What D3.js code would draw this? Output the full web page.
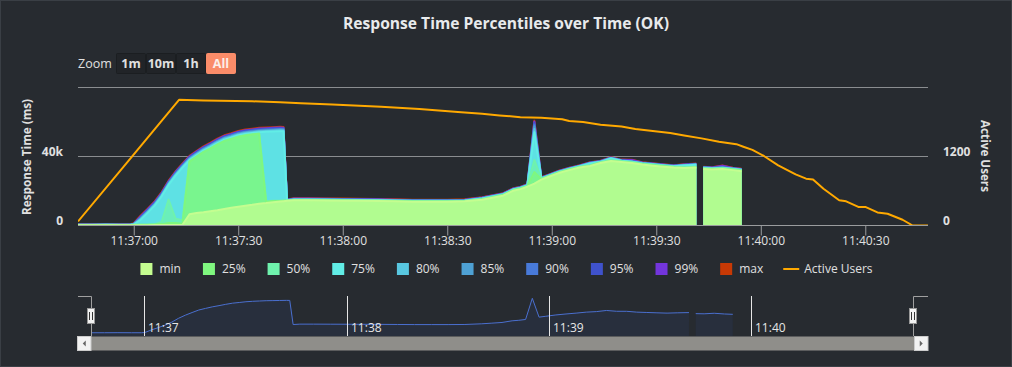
<!DOCTYPE html>
<html><head><meta charset="utf-8">
<script src="https://cdn.jsdelivr.net/npm/d3@7"></script>
<style>
html,body{margin:0;padding:0;background:#272b30;}
svg{display:block;font-family:'Open Sans',sans-serif;}
</style></head><body>
<svg id="chart" width="1012" height="367"></svg>
<script>
// ---------------- DATA ----------------
const chartTitle = "Response Time Percentiles over Time (OK)";
const leftAxisTitle = "Response Time (ms)";
const rightAxisTitle = "Active Users";
const zoomButtons = ["1m", "10m", "1h", "All"];
const leftTicks = [0, 40000];
const leftGrid = [0, 40000, 80000];
const rightTicks = [0, 1200];
const seriesNames = ["min", "25%", "50%", "75%", "80%", "85%", "90%", "95%", "99%", "max"];
const seriesColors = ["#c4fd90", "#7ff77f", "#6ff2ad", "#61ede6", "#58c7e0", "#4ea1d4", "#487ad9", "#3f52cc", "#7335dc", "#c73905"];
const usersColor = "#FFA900";

// seconds relative to 11:37:00
const times = [-16,-12,-8,-4,-1,
  0,2,4,6,8,10,12,14,16,18,20,22,24,26,28,30,32,34,36,38,40,42,43,44,
  46,50,55,60,65,70,75,80,85,90,95,100,
  103,106,109,111,113,115,117,119,122,125,128,131,134,137,140,143,146,149,152,155,158,161.5,162.5,163.5,166,169,172,174.5];

const minVals = [200,200,200,200,200,
  200,200,200,250,250,300,300,400,6500,7200,7700,8300,8900,9600,10300,10900,11500,12000,12600,13000,13500,13900,14100,14300,
  14600,14600,14500,14400,14300,14200,14000,13800,13800,13800,14000,14900,
  16100,17300,20200,21100,22500,24300,26600,28100,30400,32100,33600,34500,36200,37400,36800,36200,35300,34700,34100,33600,33300,33600,null,32700,32400,32700,32100,31500];
const p25 = [250,250,260,250,250,
  300,400,500,600,800,1500,1500,1000,37000,39800,42500,44600,46900,48900,50100,51400,52200,52700,53200,13800,14200,14200,14300,14400,
  14700,14700,14600,14500,14400,14300,14100,13900,13900,13900,14100,15100,
  16300,17500,20400,21300,22700,31000,26800,28300,30600,32300,33800,34700,36400,37600,37000,36400,35500,34900,34300,33800,33500,33800,null,32900,32600,32900,32300,31700];
const p50 = [300,300,320,300,300,
  400,500,600,800,2000,15000,4000,3000,37200,40000,42700,44800,47100,49100,50300,51600,52400,52900,53400,14000,14400,14400,14500,14500,
  14800,14800,14700,14600,14500,14400,14200,14000,14000,14000,14200,15300,
  16600,17800,20700,21600,23000,38000,27100,28600,30900,32600,34100,35000,36700,37900,37300,36700,35800,35200,34600,34100,33800,34100,null,33200,32900,33200,32600,32000];
const p75 = [350,350,380,350,350,
  600,3300,7300,11500,16900,23500,28900,33500,37900,40700,43400,45500,47800,49800,51000,52300,53100,53600,54100,54300,54500,54700,54600,14500,
  15000,15000,14900,14800,14700,14600,14400,14200,14200,14200,14400,15600,
  16800,18000,20900,21800,23200,54000,27300,28800,31100,32800,34300,36000,36900,38900,37500,36900,36000,35400,34800,34300,34800,35200,null,33400,33100,33400,32800,32200];
const p80 = [380,380,400,380,380,
  700,3800,7800,12000,17400,24000,29400,34000,38400,41200,43900,46000,48300,50300,51500,52800,53600,54100,54600,54800,55000,55200,55100,14600,
  15100,15100,15000,14900,14800,14700,14500,14300,14300,14300,14500,15700,
  16900,18100,21000,21900,23300,56000,27400,28900,31200,32900,34400,36100,37000,39000,37600,37000,36100,35500,34900,34400,34900,35300,null,33500,33200,33500,32900,32300];
const p85 = [400,400,420,400,400,
  800,4200,8200,12400,17800,24400,29800,34400,38800,41600,44300,46400,48700,50700,51900,53200,54000,54500,55000,55200,55400,55600,55500,14700,
  15200,15200,15100,15000,14900,14800,14600,14400,14400,14400,14600,15800,
  17000,18200,21100,22000,23400,57500,27500,29000,31300,33000,34500,36200,37100,39100,37700,37100,36200,35600,35000,34500,35000,35400,null,33600,33300,33600,33000,32400];
const p90 = [450,450,470,450,450,
  900,4600,8600,12800,18200,24800,30200,34800,39200,42000,44700,46800,49100,51100,52300,53600,54400,54900,55400,55600,55800,56000,55900,14800,
  15300,15300,15200,15100,15000,14900,14700,14500,14500,14500,14700,15900,
  17100,18300,21200,22100,23500,58500,27600,29100,31400,33100,34600,36300,37200,39200,37800,37200,36300,35700,35100,34600,35100,35500,null,33700,33400,33700,33100,32500];
const p95 = [500,500,520,500,500,
  1000,5000,9000,13200,18600,25200,30600,35200,39600,42400,45100,47200,49500,51500,52700,54000,54800,55300,55800,56000,56200,56400,56300,14900,
  15400,15400,15300,15200,15100,15000,14800,14600,14600,14600,14800,16000,
  17200,18400,21300,22200,23600,59500,27700,29200,31500,33200,34700,36400,37300,39300,37900,37300,36400,35800,35200,34700,35200,35600,null,33800,33500,33800,33200,32600];
const p99 = [600,600,650,600,600,
  1100,5400,9400,13600,19000,25600,31000,35600,40000,42800,45500,47600,49900,51900,53100,54400,55200,55700,56200,56400,56600,56800,56700,15000,
  15600,15600,15500,15400,15300,15200,15000,14800,14800,14800,15000,16200,
  17350,18550,21450,22350,23750,60300,27850,29350,31650,33350,34850,36550,37450,39450,38050,38000,36550,35950,35350,34850,35350,35750,null,33950,33650,34600,33350,32750];
const maxVals = [800,800,900,800,800,
  1300,5800,9800,14000,19400,26000,31400,36000,40400,43200,45900,48000,50300,52300,53500,54800,55600,56100,56600,56800,57000,57200,57100,15100,
  15800,15800,15700,15600,15500,15400,15200,15000,15000,15000,15200,16400,
  17500,18700,21600,22500,23900,60800,28000,29500,31800,33500,35000,36700,37600,39600,38200,38150,36700,36100,35500,35000,35500,35900,null,34100,33800,34750,33500,32900];

const userTimes = [-16,-2,13,20,34,42,48,57,71,82,94,100,105,111,117,123,125,129,134,140,144,149,154,158,163,168,173,175,177.6,181,185,190,193,195,198,202.5,204.5,208,210,213.5,216.4,220.7,223.6,228];
const activeUsers = [70,1090,2185,2176,2160,2142,2126,2105,2064,2025,1968,1942,1915,1884,1872,1849,1819,1801,1754,1720,1679,1643,1608,1565,1515,1456,1415,1370,1315,1205,1047,889,814,802,638,439,421,323,323,228,205,100,0,0];

const domainSeconds = [-16, 228];

// ---------------- CHART ----------------
const svg = d3.select("#chart");
const W = 1012, H = 367;
const base = new Date(2020, 0, 1, 11, 37, 0).getTime();
const toDate = t => new Date(base + t * 1000);
const textColor = "#e0e0e0";

svg.append("rect").attr("x", 0.5).attr("y", 0.5).attr("width", W - 1).attr("height", H - 1)
  .attr("fill", "#272b30").attr("stroke", "#3a3f45");

const P = {left: 78, right: 928, top: 87.5, bottom: 225.5};
const x = d3.scaleTime().domain(domainSeconds.map(toDate)).range([P.left, P.right]);
const y = d3.scaleLinear().domain([0, 80000]).range([P.bottom, P.top]);
const yR = d3.scaleLinear().domain([0, 2400]).range([P.bottom, P.top]);
const crisp = v => Math.floor(v) + 0.5;

// title
const title = svg.append("text").attr("x", 506).attr("y", 28.5).attr("text-anchor", "middle")
  .attr("font-size", 16).attr("font-weight", "bold").attr("fill", "#e8eaec").text(chartTitle);
function fitText(sel, w) {
  const L = sel.node().getComputedTextLength();
  const fs = parseFloat(sel.attr("font-size"));
  sel.attr("font-size", (fs * w / L).toFixed(2));
}
fitText(title, 326);

// zoom buttons
svg.append("text").attr("x", 78).attr("y", 68).attr("font-size", 12.5).attr("fill", textColor).text("Zoom");
const bx = [116.5, 146.5, 176.5, 206.5];
zoomButtons.forEach((b, i) => {
  const active = b === "All";
  svg.append("rect").attr("x", bx[i]).attr("y", 53.5).attr("width", 29).attr("height", 20).attr("rx", 1)
    .attr("fill", active ? "#fa8c69" : "#212428").attr("stroke", active ? "#fa8c69" : "#1b1e21");
  svg.append("text").attr("x", bx[i] + 14.5).attr("y", 67.5).attr("text-anchor", "middle")
    .attr("font-size", 12.5).attr("font-weight", "bold").attr("fill", active ? "#fbeee8" : textColor).text(b);
});

// grid
leftGrid.forEach(v => {
  svg.append("line").attr("x1", P.left).attr("x2", P.right).attr("y1", crisp(y(v))).attr("y2", crisp(y(v)))
    .attr("stroke", "#8a8d90").attr("stroke-width", 1);
});

// axis labels
const yAxisG = svg.append("g").attr("transform", `translate(${P.left},0)`)
  .call(d3.axisLeft(y).tickValues(leftTicks).tickSize(0).tickPadding(15)
    .tickFormat(d => d === 0 ? "0" : (d / 1000) + "k"));
yAxisG.select(".domain").remove();
yAxisG.selectAll("text").attr("dy", "-0.12em").attr("font-size", 12).attr("font-weight", "bold")
  .attr("fill", textColor).attr("font-family", "'Open Sans',sans-serif");

const yRAxisG = svg.append("g").attr("transform", `translate(${P.right},0)`)
  .call(d3.axisRight(yR).tickValues(rightTicks).tickSize(0).tickPadding(15).tickFormat(d3.format("d")));
yRAxisG.select(".domain").remove();
yRAxisG.selectAll("text").attr("dy", "-0.12em").attr("font-size", 12).attr("font-weight", "bold")
  .attr("fill", textColor).attr("font-family", "'Open Sans',sans-serif");

// axis titles
const lt = svg.append("text").attr("transform", "translate(31,157) rotate(-90)").attr("text-anchor", "middle")
  .attr("font-size", 12).attr("font-weight", "bold").attr("fill", textColor).text(leftAxisTitle);
fitText(lt, 116);
const rt = svg.append("text").attr("transform", "translate(981,156) rotate(90)").attr("text-anchor", "middle")
  .attr("font-size", 12).attr("font-weight", "bold").attr("fill", textColor).text(rightAxisTitle);
fitText(rt, 72);

// clip
svg.append("clipPath").attr("id", "plotclip").append("rect")
  .attr("x", P.left).attr("y", P.top - 6).attr("width", P.right - P.left).attr("height", P.bottom - P.top + 6);

const plotG = svg.append("g").attr("clip-path", "url(#plotclip)");
const allSeries = [minVals, p25, p50, p75, p80, p85, p90, p95, p99, maxVals];
const area = d3.area().defined(d => d.v != null).x(d => x(d.date)).y0(y(0)).y1(d => y(d.v));
const line = d3.line().defined(d => d.v != null).x(d => x(d.date)).y(d => y(d.v));
for (let i = allSeries.length - 1; i >= 0; i--) {
  const data = times.map((t, k) => ({date: toDate(t), v: allSeries[i][k]}));
  plotG.append("path").datum(data).attr("d", area).attr("fill", seriesColors[i]).attr("fill-opacity", 0.75);
  plotG.append("path").datum(data).attr("d", line).attr("fill", "none").attr("stroke", seriesColors[i])
    .attr("stroke-width", 2).attr("stroke-linejoin", "round");
}

// x axis
svg.append("line").attr("x1", P.left).attr("x2", P.right).attr("y1", crisp(P.bottom)).attr("y2", crisp(P.bottom))
  .attr("stroke", "#9a9c9e");
const xAxisG = svg.append("g").attr("transform", `translate(0,${crisp(P.bottom)})`)
  .call(d3.axisBottom(x).ticks(d3.timeSecond.every(30)).tickFormat(d3.timeFormat("%H:%M:%S"))
    .tickSize(10).tickPadding(1));
xAxisG.select(".domain").remove();
xAxisG.selectAll("line").attr("stroke", "#9a9c9e");
xAxisG.selectAll("text").attr("font-size", 12).attr("fill", textColor).attr("font-family", "'Open Sans',sans-serif");

// active users
const uData = userTimes.map((t, k) => ({date: toDate(t), v: activeUsers[k]}));
plotG.append("path").datum(uData)
  .attr("d", d3.line().x(d => x(d.date)).y(d => yR(d.v)))
  .attr("fill", "none").attr("stroke", usersColor).attr("stroke-width", 2).attr("stroke-linejoin", "round");

// legend
const legendItems = seriesNames.map((n, i) => ({name: n, color: seriesColors[i], type: "rect"}))
  .concat([{name: "Active Users", color: usersColor, type: "line"}]);
const lg = svg.append("g");
let cx = 0;
legendItems.forEach(it => {
  const g = lg.append("g").attr("transform", `translate(${cx},0)`);
  if (it.type === "rect") {
    g.append("rect").attr("x", 2).attr("y", -6).attr("width", 12).attr("height", 12).attr("fill", it.color);
  } else {
    g.append("line").attr("x1", 0).attr("x2", 16).attr("y1", 0).attr("y2", 0).attr("stroke", it.color).attr("stroke-width", 2);
  }
  const t = g.append("text").attr("x", 21).attr("y", 4.3).attr("font-size", 12).attr("fill", textColor).text(it.name);
  cx += 21 + t.node().getComputedTextLength() + 20;
});
const lgW = cx - 20;
lg.attr("transform", `translate(${505.5 - lgW / 2},269)`);

// navigator
const N = {left: 91, right: 913, top: 296, bottom: 336};
const nx = d3.scaleTime().domain(domainSeconds.map(toDate)).range([N.left, N.right]);
const ny = d3.scaleLinear().domain([0, d3.max(maxVals)]).range([333.2, 298.3]);
const navData = times.map((t, k) => ({date: toDate(t), v: maxVals[k]}));
svg.append("path").datum(navData)
  .attr("d", d3.area().defined(d => d.v != null).x(d => nx(d.date)).y0(N.bottom).y1(d => ny(d.v)))
  .attr("fill", "#335cad").attr("fill-opacity", 0.1);
svg.append("path").datum(navData)
  .attr("d", d3.line().defined(d => d.v != null).x(d => nx(d.date)).y(d => ny(d.v)))
  .attr("fill", "none").attr("stroke", "#4a6fcf").attr("stroke-width", 1);
nx.ticks(d3.timeMinute.every(1)).forEach(d => {
  const px = crisp(nx(d));
  svg.append("line").attr("x1", px).attr("x2", px).attr("y1", N.top).attr("y2", N.bottom).attr("stroke", "#e6e6e6");
  svg.append("text").attr("x", px + 3.5).attr("y", 332).attr("font-size", 12).attr("fill", "#e6e6e6")
    .text(d3.timeFormat("%H:%M")(d));
});
// outline
svg.append("path").attr("d", `M78,296.5H91.5V336M913.5,336V296.5H928`).attr("fill", "none").attr("stroke", "#a0a0a0");
// scrollbar
svg.append("rect").attr("x", 77.5).attr("y", 336.5).attr("width", 850.5).attr("height", 14).attr("fill", "#8f8e8a");
[[77.5, -1], [914.5, 1]].forEach(([bx0, dir]) => {
  svg.append("rect").attr("x", bx0).attr("y", 336.5).attr("width", 13.5).attr("height", 14)
    .attr("fill", "#f2f2f2").attr("stroke", "#cccccc");
  const cxb = bx0 + 6.75, cyb = 343.5;
  svg.append("path").attr("d", `M${cxb + 1.5 * dir},${cyb}L${cxb - 1.5 * dir},${cyb - 3}L${cxb - 1.5 * dir},${cyb + 3}Z`)
    .attr("fill", "#666");
});
// handles
[91, 913].forEach(hx => {
  svg.append("rect").attr("x", hx - 3.5).attr("y", 308.5).attr("width", 7).attr("height", 15)
    .attr("fill", "#f2f2f2").attr("stroke", "#999");
  svg.append("path").attr("d", `M${hx - 1.5},312V320M${hx + 1.5},312V320`).attr("stroke", "#333").attr("stroke-width", 1);
});
</script>
</body></html>
